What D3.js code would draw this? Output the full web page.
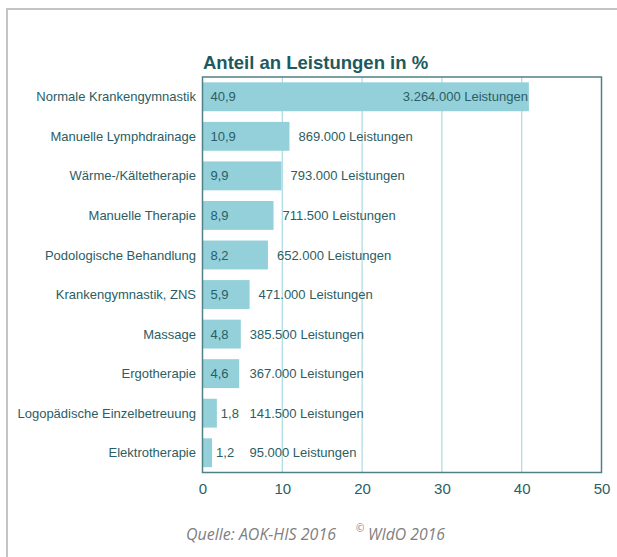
<!DOCTYPE html>
<html>
<head>
<meta charset="utf-8">
<script src="https://cdn.jsdelivr.net/npm/d3@7"></script>
<style>
  body { margin: 0; background: #fff; }
  svg { display: block; }
</style>
</head>
<body>
<svg id="chart" width="617" height="557"></svg>
<script>
// chart data
var categories = ["Normale Krankengymnastik", "Manuelle Lymphdrainage", "Wärme-/Kältetherapie",
  "Manuelle Therapie", "Podologische Behandlung", "Krankengymnastik, ZNS", "Massage",
  "Ergotherapie", "Logopädische Einzelbetreuung", "Elektrotherapie"];
var shares = [40.9, 10.9, 9.9, 8.9, 8.2, 5.9, 4.8, 4.6, 1.8, 1.2];
var services = ["3.264.000", "869.000", "793.000", "711.500", "652.000", "471.000",
  "385.500", "367.000", "141.500", "95.000"];
var xTicks = [0, 10, 20, 30, 40, 50];

var teal = "#2b5e64";
var svg = d3.select("#chart");
var m = {left: 202.5, right: 601.5, top: 77, bottom: 472.5};

// outer gray frame
svg.append("path")
   .attr("d", "M7,557 L7,9 L617,9")
   .attr("fill", "none").attr("stroke", "#c4c4c4").attr("stroke-width", 2);

var x = d3.scaleLinear().domain([0, 50]).range([m.left, m.right]);
var y = d3.scaleBand().domain(categories).range([m.top, m.bottom])
          .paddingInner(0.27).paddingOuter(0.135);

// grid
svg.append("g").selectAll("line").data(xTicks.slice(1, -1)).join("line")
   .attr("x1", d => x(d)).attr("x2", d => x(d))
   .attr("y1", m.top).attr("y2", m.bottom)
   .attr("stroke", "#a9dbe3").attr("stroke-width", 1.2);

// bars
svg.append("g").selectAll("rect").data(shares).join("rect")
   .attr("x", x(0))
   .attr("y", (d, i) => y(categories[i]))
   .attr("width", d => x(d) - x(0))
   .attr("height", y.bandwidth())
   .attr("fill", "#93d0da");

// plot frame
svg.append("rect")
   .attr("x", m.left).attr("y", m.top)
   .attr("width", m.right - m.left).attr("height", m.bottom - m.top)
   .attr("fill", "none").attr("stroke", "#4f8086").attr("stroke-width", 1.5);

var font = "'Liberation Sans', Arial, sans-serif";

// category labels
svg.append("g").selectAll("text").data(categories).join("text")
   .attr("x", 196).attr("y", d => y(d) + y.bandwidth() / 2)
   .attr("dy", "0.35em").attr("text-anchor", "end")
   .attr("font-family", font).attr("font-size", 13).attr("fill", teal)
   .text(d => d);

// share values
svg.append("g").selectAll("text").data(shares).join("text")
   .attr("x", d => d < 3 ? x(d) + 4 : x(0) + 8)
   .attr("y", (d, i) => y(categories[i]) + y.bandwidth() / 2)
   .attr("dy", "0.35em")
   .attr("font-family", font).attr("font-size", 13).attr("fill", teal)
   .text(d => d3.format(".1f")(d).replace(".", ","));

// service counts
svg.append("g").selectAll("text").data(services).join("text")
   .attr("x", (d, i) => shares[i] > 30 ? x(shares[i]) - 1 : Math.max(x(shares[i]) + 9, 249.5))
   .attr("text-anchor", (d, i) => shares[i] > 30 ? "end" : "start")
   .attr("y", (d, i) => y(categories[i]) + y.bandwidth() / 2)
   .attr("dy", "0.35em")
   .attr("font-family", font).attr("font-size", 13).attr("fill", teal)
   .text(d => d + " Leistungen");

// x axis labels
var xAxis = svg.append("g")
   .attr("transform", "translate(0," + m.bottom + ")")
   .call(d3.axisBottom(x).tickValues(xTicks).tickSize(0).tickPadding(11));
xAxis.select(".domain").remove();
xAxis.selectAll("text")
   .attr("font-family", font).attr("font-size", 15).attr("fill", teal);

// title
svg.append("text")
   .attr("x", 203).attr("y", 69)
   .attr("font-family", font).attr("font-size", 18.5).attr("font-weight", "bold")
   .attr("fill", "#1d5a60")
   .text("Anteil an Leistungen in %");

// source
svg.append("text")
   .attr("x", 186).attr("y", 540)
   .attr("font-family", "'Open Sans', sans-serif").attr("font-style", "italic")
   .attr("font-size", 16).attr("fill", "#808080")
   .attr("textLength", 150).attr("lengthAdjust", "spacingAndGlyphs")
   .text("Quelle: AOK-HIS 2016");
svg.append("text")
   .attr("x", 356).attr("y", 532)
   .attr("font-family", "'Open Sans', sans-serif")
   .attr("font-size", 10).attr("fill", "#808080")
   .text("©");
svg.append("text")
   .attr("x", 368).attr("y", 540)
   .attr("font-family", "'Open Sans', sans-serif").attr("font-style", "italic")
   .attr("font-size", 16).attr("fill", "#808080")
   .attr("textLength", 77).attr("lengthAdjust", "spacingAndGlyphs")
   .text("WIdO 2016");
</script>
</body>
</html>
